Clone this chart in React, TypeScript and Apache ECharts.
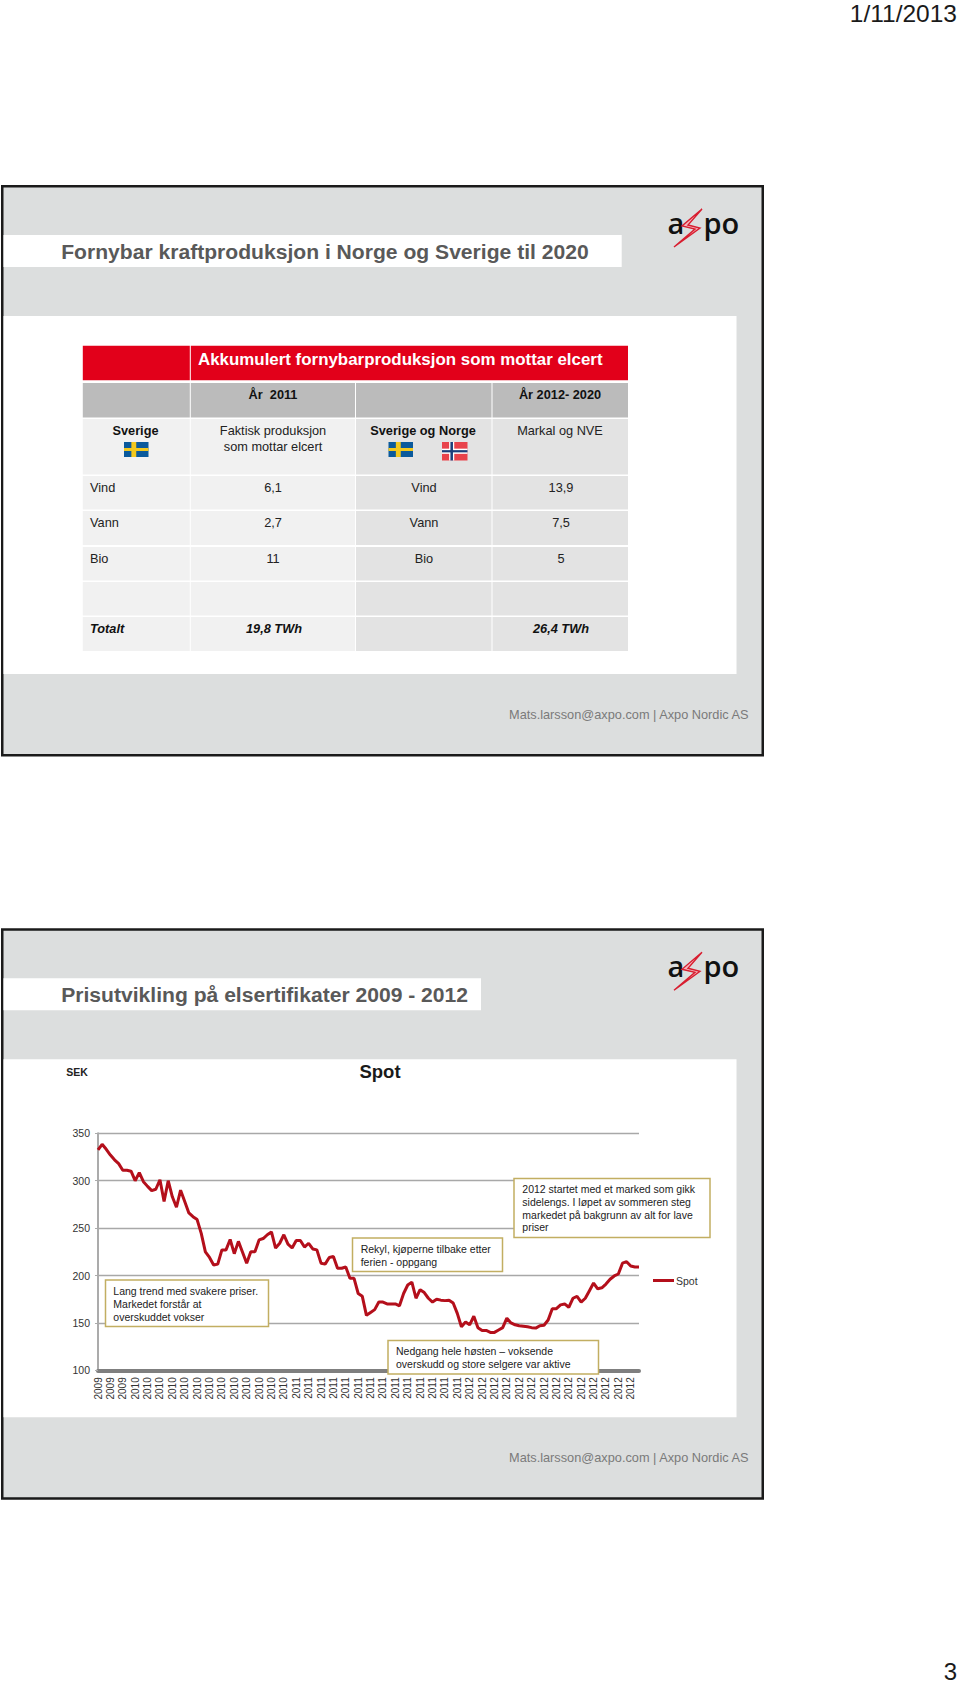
import React, { useEffect, useRef } from "react";
import * as echarts from "echarts";

const FONT = "'Liberation Sans', Arial, sans-serif";

const yearLabels = [
  ...Array(3).fill("2009"),
  ...Array(13).fill("2010"),
  ...Array(14).fill("2011"),
  ...Array(14).fill("2012"),
];

const spotValues = [
  332.4, 338.4, 333.1, 327, 322, 318, 311, 311, 310, 300, 308.5, 299, 294, 289.5, 291, 301,
  278, 300, 283, 272, 290, 278, 266, 262, 259, 244.5, 225, 219, 211, 212, 227, 227,
  238, 223, 236, 224.5, 213, 225, 225, 237.5, 239, 243, 246, 229, 234, 243, 233, 229,
  237, 237, 230, 234, 228, 227, 213, 212, 219, 220, 207.6, 207.6, 209, 197, 197, 181,
  178, 158, 161, 164, 172, 172, 170, 170, 170, 168, 181, 190, 193, 176, 185, 182,
  176, 172, 175, 174, 173.5, 174, 171, 160, 146, 151, 148, 157, 145, 142, 142, 140,
  140, 142.5, 145, 155, 150, 148, 147, 146.5, 146, 145, 144.5, 147, 147.5, 153, 165, 165,
  169, 170, 166.5, 176, 178, 172, 176, 184, 192, 186, 187, 191, 196, 199.5, 201.6, 213,
  214.6, 210, 209, 209,
];

const categories = spotValues.map((_, i) => yearLabels[Math.min(Math.floor(i / 3), yearLabels.length - 1)]);

const tableHeader = "Akkumulert fornybarproduksjon som mottar elcert";
const rowNames = ["Vind", "Vann", "Bio"];
const col2011 = ["6,1", "2,7", "11"];
const col2020 = ["13,9", "7,5", "5"];

const SLIDE_OFFSET = 743.3;
const SLIDE_BG = "#DCDEDE";
const RED = "#E2001A";
const BODY = 12.75;

const rect = (x: number, y: number, w: number, h: number, fill: string, z = -5) => ({
  type: "rect",
  z,
  silent: true,
  shape: { x, y, width: w, height: h },
  style: { fill },
});

const txt = (
  x: number,
  y: number,
  text: string,
  o: { size?: number; weight?: string; color?: string; align?: string; italic?: boolean; z?: number; family?: string } = {}
) => ({
  type: "text",
  z: o.z ?? -1,
  silent: true,
  x,
  y,
  style: {
    text,
    fill: o.color ?? "#222",
    font: `${o.italic ? "italic " : ""}${o.weight ?? "normal"} ${o.size ?? BODY}px ${o.family ?? FONT}`,
    textAlign: o.align ?? "left",
    textVerticalAlign: "middle",
  },
});

const swedish = (x: number, y: number, w: number, h: number) => [
  rect(x, y, w, h, "#0B5A9C", -2),
  rect(x, y + h * 0.4, w, h * 0.2, "#F2C81E", -1),
  rect(x + w * 0.3, y, w * 0.2, h, "#F2C81E", -1),
];

const norwegian = (x: number, y: number, w: number, h: number) => [
  rect(x, y, w, h, "#E8434B", -2),
  rect(x, y + h * 0.36, w, h * 0.28, "#FFFFFF", -1),
  rect(x + w * 0.28, y, w * 0.2, h, "#FFFFFF", -1),
  rect(x, y + h * 0.44, w, h * 0.12, "#1B3F7A", -0.5),
  rect(x + w * 0.33, y, w * 0.1, h, "#1B3F7A", -0.5),
];

const logo = (dy: number) => [
  txt(667.5, 222.5 + dy, "a", { size: 29, color: "#111", family: "'Open Sans', sans-serif", weight: "600" }),
  txt(703.5, 222.5 + dy, "po", { size: 29, color: "#111", family: "'Open Sans', sans-serif", weight: "600" }),
  {
    type: "polygon",
    z: 0,
    silent: true,
    shape: {
      points: [
        [702, 209 + dy],
        [682, 226 + dy],
        [695, 229 + dy],
        [674, 247 + dy],
        [700, 228 + dy],
        [688, 225 + dy],
      ],
    },
    style: { fill: "#F5B5BC", stroke: "#D81E30", lineWidth: 1.4 },
  },
];

const frame = (dy: number, stripRight: number, title: string) => [
  rect(1, 185 + dy, 763, 571.5, "#1A1A1A", -10),
  rect(3.5, 187.5 + dy, 758, 566.5, SLIDE_BG, -9),
  rect(3.5, 235 + dy, stripRight - 3.5, 32, "#FFFFFF", -8),
  rect(3.5, 316 + dy, 733, 358, "#FFFFFF", -8),
  txt(61.2, 251 + dy, title, { size: 21.1, weight: "bold", color: "#595959" }),
  txt(748.5, 714 + dy, "Mats.larsson@axpo.com | Axpo Nordic AS", { size: BODY, color: "#7A7A7A", align: "right" }),
  ...logo(dy),
];

const rowTops = [383, 419, 476, 511, 547, 582, 617];
const rowBottoms = [417.5, 474.5, 509.5, 545, 580.5, 615.5, 651];
const colLeft = [82.8, 190.8, 356, 492.5];
const colRight = [189.8, 355, 491.5, 628];
const colFill = ["#F1F1F1", "#F1F1F1", "#E3E3E3", "#E3E3E3"];

const tableCells: any[] = [];
rowTops.forEach((top, r) => {
  colLeft.forEach((l, c) => {
    tableCells.push(rect(l, top, colRight[c] - l, rowBottoms[r] - top, r === 0 ? "#BBBBBB" : colFill[c], -7));
  });
});

const table = [
  rect(82.8, 345.7, 107, 34.5, RED, -7),
  rect(190.8, 345.7, 437.2, 34.5, RED, -7),
  ...tableCells,
  txt(198, 359.5, tableHeader, { size: 16.9, weight: "bold", color: "#FFFFFF" }),
  txt(273, 394, "År  2011", { weight: "bold", color: "#111", align: "center" }),
  txt(560, 394, "År 2012- 2020", { weight: "bold", color: "#111", align: "center" }),
  txt(135.5, 430.5, "Sverige", { weight: "bold", color: "#111", align: "center" }),
  txt(273, 430.5, "Faktisk produksjon", { align: "center" }),
  txt(273, 446, "som mottar elcert", { align: "center" }),
  txt(423, 430.5, "Sverige og Norge", { weight: "bold", color: "#111", align: "center" }),
  txt(560, 430.5, "Markal og NVE", { align: "center" }),
  ...swedish(124, 442, 24.5, 15),
  ...swedish(388.5, 442, 24.5, 15),
  ...norwegian(442, 442, 25.5, 18.5),
  ...rowNames.flatMap((n, i) => {
    const y = [487, 522.5, 558][i];
    return [
      txt(90, y, n),
      txt(273, y, col2011[i], { align: "center" }),
      txt(424, y, n, { align: "center" }),
      txt(561, y, col2020[i], { align: "center" }),
    ];
  }),
  txt(90, 628.5, "Totalt", { italic: true, weight: "bold", color: "#111" }),
  txt(274, 628.5, "19,8 TWh", { italic: true, weight: "bold", color: "#111", align: "center" }),
  txt(561, 628.5, "26,4 TWh", { italic: true, weight: "bold", color: "#111", align: "center" }),
];

const callout = (x: number, y: number, w: number, h: number, tx: number, tys: number[], lines: string[]) => [
  {
    type: "rect",
    z: 50,
    silent: true,
    shape: { x, y, width: w, height: h },
    style: { fill: "#FFFFFF", stroke: "#C2AE62", lineWidth: 1.5 },
  },
  ...lines.map((l, i) => txt(tx, tys[i], l, { size: 10.5, color: "#222", z: 51 })),
];

const callouts = [
  ...callout(105.5, 1280, 163, 46.5, 113.3, [1291, 1304, 1316.7], [
    "Lang trend med svakere priser.",
    "Markedet forstår at",
    "overskuddet vokser",
  ]),
  ...callout(352.5, 1238, 150, 33.5, 360.7, [1249, 1261.7], ["Rekyl, kjøperne tilbake etter", "ferien - oppgang"]),
  ...callout(388, 1340.5, 210.5, 33.5, 396, [1351, 1364], [
    "Nedgang hele høsten – voksende",
    "overskudd og store selgere var aktive",
  ]),
  ...callout(514, 1178.5, 196, 59, 522.3, [1189, 1202, 1214.5, 1227], [
    "2012 startet med et marked som gikk",
    "sidelengs. I løpet av sommeren steg",
    "markedet på bakgrunn av alt for lave",
    "priser",
  ]),
];

export default function App() {
  const ref = useRef<HTMLDivElement>(null);
  useEffect(() => {
    const chart = echarts.init(ref.current!, undefined, { renderer: "svg" });
    chart.setOption({
      animation: false,
      backgroundColor: "#FFFFFF",
      textStyle: { fontFamily: FONT },
      graphic: {
        elements: [
          ...frame(0, 621.7, "Fornybar kraftproduksjon i Norge og Sverige til 2020"),
          ...table,
          ...frame(SLIDE_OFFSET, 481, "Prisutvikling på elsertifikater 2009 - 2012"),
          txt(66.3, 1071.5, "SEK", { size: 10.5, weight: "bold", color: "#222" }),
          txt(380, 1071.5, "Spot", { size: 18.5, weight: "bold", color: "#1A1A1A", align: "center" }),
          ...callouts,
          txt(957, 13.5, "1/11/2013", { size: 24.5, color: "#1A1A1A", align: "right" }),
          txt(957, 1671.5, "3", { size: 24, color: "#1A1A1A", align: "right" }),
        ],
      },
      legend: {
        show: true,
        left: 648,
        top: 1270,
        itemWidth: 21,
        itemHeight: 3,
        icon: "rect",
        textStyle: { fontSize: 10.5, color: "#333", fontFamily: FONT, padding: [0, 0, 0, -3] },
        data: ["Spot"],
      },
      grid: { left: 98, top: 1133.3, width: 541, height: 237, containLabel: false },
      xAxis: {
        type: "category",
        data: categories,
        boundaryGap: false,
        axisLine: { lineStyle: { color: "#7F7F7F", width: 4 } },
        axisTick: { show: false },
        axisLabel: {
          interval: 2,
          rotate: 90,
          fontSize: 10,
          color: "#333",
          margin: 7,
          fontFamily: FONT,
          hideOverlap: false,
        },
        splitLine: { show: false },
      },
      yAxis: {
        type: "value",
        min: 100,
        max: 350,
        interval: 50,
        axisLine: { show: true, lineStyle: { color: "#ABABAB", width: 2 } },
        axisTick: { show: true, length: 3, lineStyle: { color: "#ABABAB" } },
        axisLabel: { fontSize: 10.5, color: "#333", margin: 8, fontFamily: FONT },
        splitLine: { lineStyle: { color: "#A8A8A8", width: 1.3 } },
      },
      series: [
        {
          name: "Spot",
          type: "line",
          data: spotValues,
          showSymbol: false,
          smooth: false,
          lineStyle: { color: "#B40F1B", width: 3 },
          itemStyle: { color: "#B40F1B" },
        },
      ],
    });
    return () => chart.dispose();
  }, []);
  return <div ref={ref} style={{ position: "absolute", left: 0, top: 0, width: 960, height: 1684 }} />;
}
